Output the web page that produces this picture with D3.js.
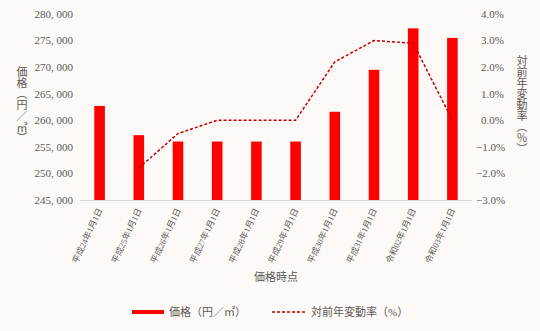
<!DOCTYPE html>
<html>
<head>
<meta charset="utf-8">
<script src="https://cdn.jsdelivr.net/npm/d3@7"></script>
<style>
  body { margin: 0; background: #fdf9f6; }
  svg { display: block; }
  text { font-family: "Liberation Serif", "DejaVu Serif", "Noto Sans CJK JP", serif; fill: #595959; }
</style>
</head>
<body>
<svg width="540" height="331"></svg>
<script>
// chart data
const dates  = ["平成24年1月1日", "平成25年1月1日", "平成26年1月1日", "平成27年1月1日", "平成28年1月1日",
                "平成29年1月1日", "平成30年1月1日", "平成31年1月1日", "令和02年1月1日", "令和03年1月1日"];
const prices = [262700, 257200, 256000, 256000, 256000, 256000, 261600, 269500, 277300, 275500];
const rates  = [null, -1.8, -0.5, 0.0, 0.0, 0.0, 2.2, 3.0, 2.9, 0.0];   // percent
const priceTicks = [245000, 250000, 255000, 260000, 265000, 270000, 275000, 280000];
const rateTicks  = [-3, -2, -1, 0, 1, 2, 3, 4];

const svg       = d3.select("svg");
const plotLeft  = 80;
const plotRight = 472;
const plotTop   = 14;
const plotBot   = 200;

const bar_color  = "#ff0000";
const line_color = "#c00000";

const x = d3.scaleBand()
  .domain(dates)
  .range([plotLeft, plotRight])
  .paddingInner(0.73)
  .paddingOuter(0.365);

const yPrice = d3.scaleLinear().domain([245000, 280000]).range([plotBot, plotTop]);
const yRate  = d3.scaleLinear().domain([-3, 4]).range([plotBot, plotTop]);

// left axis labels
const fmtPrice = d => d3.format(",")(d).replace(",", ", ");
svg.append("g")
  .selectAll("text")
  .data(priceTicks)
  .enter()
  .append("text")
  .attr("x", 73)
  .attr("y", d => yPrice(d))
  .attr("dy", "0.35em")
  .attr("text-anchor", "end")
  .style("font-size", "11px")
  .text(fmtPrice);

// right axis labels
svg.append("g")
  .selectAll("text")
  .data(rateTicks)
  .enter()
  .append("text")
  .attr("x", d => d < 0 ? 476 : 481)
  .attr("y", d => yRate(d))
  .attr("dy", "0.35em")
  .attr("text-anchor", "start")
  .style("font-size", "11px")
  .text(d => d3.format(".1f")(d) + "%");

// bars
svg.append("g")
  .selectAll("rect")
  .data(prices)
  .enter()
  .append("rect")
  .attr("x", (d, i) => x(dates[i]))
  .attr("width", x.bandwidth())
  .attr("y", d => yPrice(d))
  .attr("height", d => yPrice(245000) - yPrice(d))
  .style("fill", bar_color);

// x axis line
svg.append("line")
  .attr("x1", plotLeft).attr("x2", plotRight)
  .attr("y1", plotBot + 0.5).attr("y2", plotBot + 0.5)
  .style("stroke", "#d9d9d9");

// change rate line
const line = d3.line()
  .defined(d => d.v !== null)
  .x(d => x(d.k) + x.bandwidth() / 2)
  .y(d => yRate(d.v));

svg.append("path")
  .datum(dates.map((k, i) => ({k: k, v: rates[i]})))
  .attr("d", line)
  .style("fill", "none")
  .style("stroke", line_color)
  .style("stroke-width", 1.5)
  .style("stroke-dasharray", "3,2");

// x labels, rotated
svg.append("g")
  .selectAll("text")
  .data(dates)
  .enter()
  .append("text")
  .attr("transform", d => `translate(${x(d) + x.bandwidth() / 2 + 3},${plotBot + 10}) rotate(-65)`)
  .attr("text-anchor", "end")
  .style("font-size", "8.5px")
  .text(d => d);

// axis titles
svg.append("text")
  .attr("x", 276).attr("y", 281)
  .attr("text-anchor", "middle")
  .style("font-size", "11px")
  .text("価格時点");

svg.append("text")
  .attr("x", 21).attr("y", 105)
  .attr("text-anchor", "middle")
  .style("writing-mode", "vertical-rl")
  .style("font-size", "11px")
  .text("価格（円／㎡）");

svg.append("text")
  .attr("x", 521).attr("y", 105)
  .attr("text-anchor", "middle")
  .style("writing-mode", "vertical-rl")
  .style("font-size", "11px")
  .text("対前年変動率（％）");

// legend
const legend = svg.append("g");
legend.append("rect")
  .attr("x", 132).attr("y", 310)
  .attr("width", 32).attr("height", 4)
  .style("fill", bar_color);
legend.append("text")
  .attr("x", 169).attr("y", 312)
  .attr("dy", "0.35em")
  .style("font-size", "11px")
  .text("価格（円／㎡）");
legend.append("line")
  .attr("x1", 272).attr("x2", 307)
  .attr("y1", 312).attr("y2", 312)
  .style("stroke", line_color)
  .style("stroke-width", 1.5)
  .style("stroke-dasharray", "3,2");
legend.append("text")
  .attr("x", 311).attr("y", 312)
  .attr("dy", "0.35em")
  .style("font-size", "11px")
  .text("対前年変動率（%）");
</script>
</body>
</html>
